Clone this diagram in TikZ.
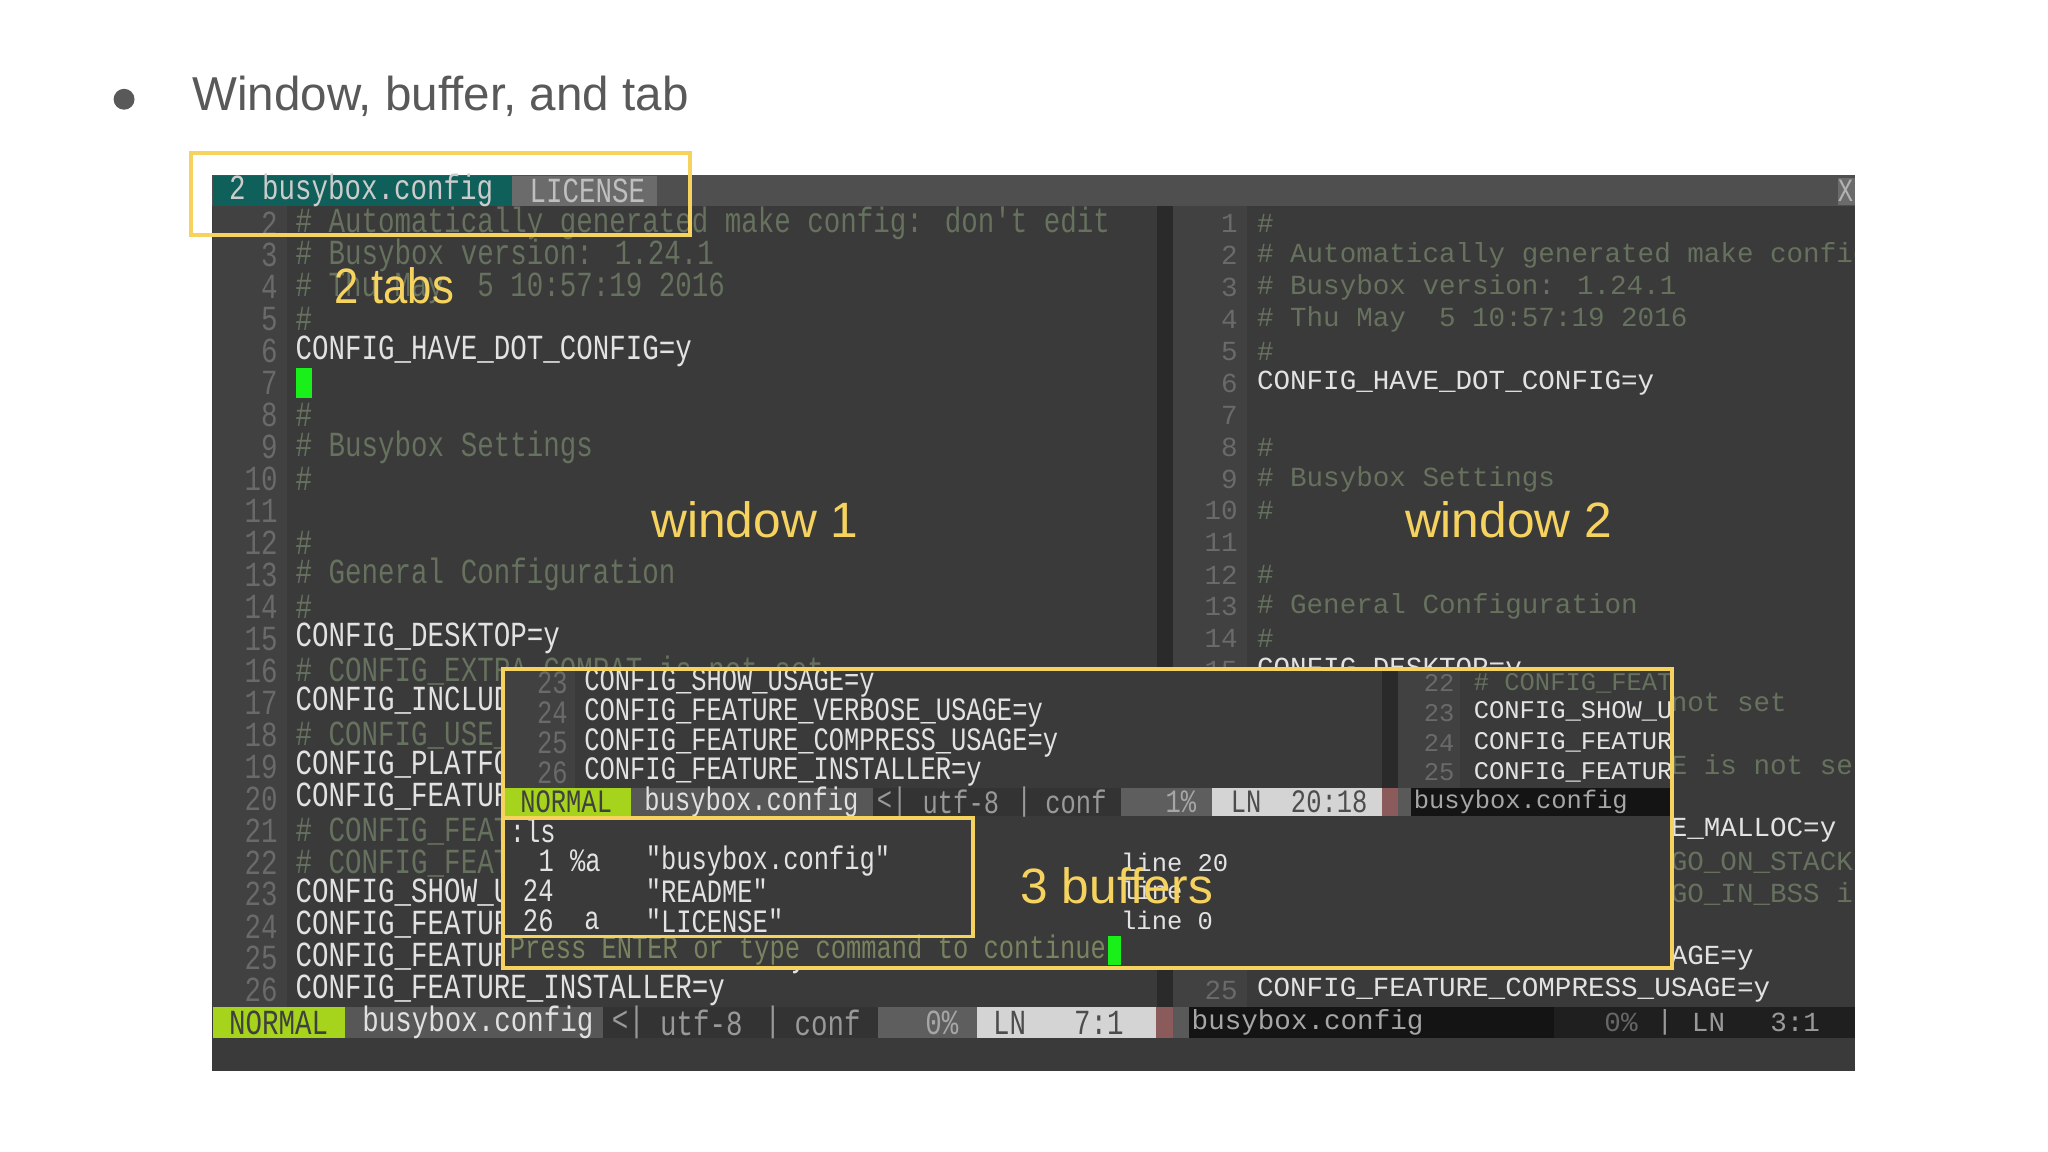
\documentclass[tikz,border=0pt]{standalone}
\usepackage{fontspec}
\usepackage{graphicx}
\setmainfont{Liberation Sans}
\newfontfamily\mono{Liberation Mono}
\newcommand\LL[1]{\scalebox{0.78}[1]{\fontsize{13.5}{14}\mono #1}}
\newcommand\RR[1]{{\fontsize{10.56}{12}\mono #1}}
\newcommand\PL[1]{\scalebox{0.78}[1]{\fontsize{12.5}{13}\mono #1}}
\newcommand\PR[1]{{\fontsize{9.75}{11}\mono #1}}
\definecolor{termbg}{HTML}{3A3A3A}
\definecolor{gut}{HTML}{414141}
\definecolor{divc}{HTML}{2A2A2A}
\definecolor{numc}{HTML}{6A6A6A}
\definecolor{cmc}{HTML}{66715E}
\definecolor{txc}{HTML}{E2E2E2}
\definecolor{yel}{HTML}{F6D35E}
\definecolor{grn}{HTML}{A6D41C}
\definecolor{cur}{HTML}{19F019}
\definecolor{tabc}{HTML}{0F5F5B}
\definecolor{titc}{HTML}{595959}
\definecolor{redc}{HTML}{8B5A5A}
\definecolor{pressc}{HTML}{78845F}
\tikzset{
 lbl/.style={anchor=west,inner sep=0pt},
 numst/.style={anchor=east,inner sep=0pt,text=numc},
 cmt/.style={lbl,text=cmc},
 nmt/.style={lbl,text=txc},
 ybox/.style={draw=yel,line width=1.5pt},
 ylab/.style={inner sep=0pt,text=yel,font=\fontsize{19}{22}\selectfont},
 sb/.style={lbl,text=#1},
}
\begin{document}
\begin{tikzpicture}[x=0.5pt,y=-0.5pt]
\useasboundingbox (0,0) rectangle (1568,882);
\fill[white] (0,0) rectangle (1568,882);
% title
\fill[titc] (95,76) circle (8);
\node[lbl,text=titc,font=\fontsize{18.2}{22}\selectfont] (title) at (147,74) {Window, buffer, and tab};
% terminal
\fill[termbg] (162,134) rectangle (1420,820);
\fill[black!69] (162,134) rectangle (1420,158);
\fill[tabc] (163,135) rectangle (392,158);
\fill[black!58] (392,135) rectangle (503,158);
\node[sb=black!20] (tab1) at (175,146) {\LL{2 busybox.config}};
\node[sb=black!25] (tab2) at (405,146) {\LL{LICENSE}};
\fill[black!58] (1407,136) rectangle (1420,157);
\node[inner sep=0pt,text=black!30] (xbtn) at (1413,146) {\PL{X}};
% gutters and divider
\fill[gut] (163,158) rectangle (220,771);
\fill[divc] (886,158) rectangle (898,771);
\fill[gut] (898,158) rectangle (955,771);
% left window
\foreach \n/\s/\t [count=\i from 0] in {
2/cmt/{\# Automatically generated make config: don't edit},
3/cmt/{\# Busybox version: 1.24.1},
4/cmt/{\# Thu May\ \ 5 10:57:19 2016},
5/cmt/{\#},
6/nmt/{CONFIG\_HAVE\_DOT\_CONFIG=y},
7/nmt/{},
8/cmt/{\#},
9/cmt/{\# Busybox Settings},
10/cmt/{\#},
11/nmt/{},
12/cmt/{\#},
13/cmt/{\# General Configuration},
14/cmt/{\#},
15/nmt/{CONFIG\_DESKTOP=y},
16/cmt/{\# CONFIG\_EXTRA\_COMPAT is not set},
17/nmt/{CONFIG\_INCLUDE\_SUSv2=y},
18/cmt/{\# CONFIG\_USE\_PORTABLE\_CODE is not set},
19/nmt/{CONFIG\_PLATFORM\_LINUX=y},
20/nmt/{CONFIG\_FEATURE\_BUFFERS\_USE\_MALLOC=y},
21/cmt/{\# CONFIG\_FEATURE\_BUFFERS\_GO\_ON\_STACK is not set},
22/cmt/{\# CONFIG\_FEATURE\_BUFFERS\_GO\_IN\_BSS is not set},
23/nmt/{CONFIG\_SHOW\_USAGE=y},
24/nmt/{CONFIG\_FEATURE\_VERBOSE\_USAGE=y},
25/nmt/{CONFIG\_FEATURE\_COMPRESS\_USAGE=y},
26/nmt/{CONFIG\_FEATURE\_INSTALLER=y}}{
  \node[numst] (LN\n) at (213,171+24.46*\i) {\LL{\n}};
  \node[\s] (LT\n) at (226,171+24.46*\i) {\LL{\t}};
}
\fill[cur] (227,282) rectangle (239,305);
% right window
\begin{scope}
\clip (898,158) rectangle (1420,771);
\foreach \n/\s/\t [count=\i from 0] in {
1/cmt/{\#},
2/cmt/{\# Automatically generated make config: don't edit},
3/cmt/{\# Busybox version: 1.24.1},
4/cmt/{\# Thu May\ \ 5 10:57:19 2016},
5/cmt/{\#},
6/nmt/{CONFIG\_HAVE\_DOT\_CONFIG=y},
7/nmt/{},
8/cmt/{\#},
9/cmt/{\# Busybox Settings},
10/cmt/{\#},
11/nmt/{},
12/cmt/{\#},
13/cmt/{\# General Configuration},
14/cmt/{\#},
15/nmt/{CONFIG\_DESKTOP=y},
16/cmt/{\# CONFIG\_EXTRA\_COMPAT is not set},
17/nmt/{CONFIG\_INCLUDE\_SUSv2=y},
18/cmt/{\# CONFIG\_USE\_PORTABLE\_CODE is not set},
19/nmt/{CONFIG\_PLATFORM\_LINUX=y},
20/nmt/{CONFIG\_FEATURE\_BUFFERS\_USE\_MALLOC=y},
21/cmt/{\# CONFIG\_FEATURE\_BUFFERS\_GO\_ON\_STACK is not set},
22/cmt/{\# CONFIG\_FEATURE\_BUFFERS\_GO\_IN\_BSS is not set},
23/nmt/{CONFIG\_SHOW\_USAGE=y},
24/nmt/{CONFIG\_FEATURE\_VERBOSE\_USAGE=y},
25/nmt/{CONFIG\_FEATURE\_COMPRESS\_USAGE=y}}{
  \node[numst] (RN\n) at (948,171+24.46*\i) {\RR{\n}};
  \node[\s] (RT\n) at (962,171+24.46*\i) {\RR{\t}};
}
\end{scope}
% left status line
\fill[grn] (163,771) rectangle (264,795);
\node[sb=black!75] (s1) at (175,783) {\LL{NORMAL}};
\fill[black!66] (264,771) rectangle (462,795);
\node[sb=black!12] (s2) at (277,783) {\LL{busybox.config}};
\fill[black!80] (462,771) rectangle (672,795);
\node[sb=black!40] (s3) at (468,783) {\LL{<|}};
\node[sb=black!40] (s4) at (505,783) {\LL{utf-8}};
\node[sb=black!40] (s5) at (585,783) {\LL{|}};
\node[sb=black!40] (s6) at (608,783) {\LL{conf}};
\fill[black!63] (672,771) rectangle (748,795);
\node[sb=black!35] (s7) at (708,783) {\LL{0\%}};
\fill[black!17] (748,771) rectangle (885,795);
\node[sb=black!70] (s8) at (760,783) {\LL{LN}};
\node[sb=black!70] (s9) at (822,783) {\LL{7:1}};
\fill[redc] (885,771) rectangle (898,795);
\fill[black!65] (898,771) rectangle (910,795);
\fill[black!92] (910,771) rectangle (1190,795);
\node[sb=black!35] (s10) at (912,783) {\RR{busybox.config}};
\fill[black!88] (1190,771) rectangle (1420,795);
\node[sb=black!60] (s11) at (1228,783) {\RR{0\%}};
\node[sb=black!40] (s12) at (1268,783) {\RR{|}};
\node[sb=black!40] (s13) at (1295,783) {\RR{LN}};
\node[sb=black!40] (s14) at (1355,783) {\RR{3:1}};
% popup
\fill[termbg] (385,512) rectangle (1280,741);
\fill[gut] (386,513) rectangle (440,603);
\fill[divc] (1058,513) rectangle (1070,603);
\fill[gut] (1070,513) rectangle (1118,603);
\foreach \n/\t [count=\i from 0] in {23/{CONFIG\_SHOW\_USAGE=y},24/{CONFIG\_FEATURE\_VERBOSE\_USAGE=y},25/{CONFIG\_FEATURE\_COMPRESS\_USAGE=y},26/{CONFIG\_FEATURE\_INSTALLER=y}}{
  \node[numst] (PN\n) at (435,523+22.8*\i) {\PL{\n}};
  \node[nmt] (PT\n) at (447,523+22.8*\i) {\PL{\t}};
}
\begin{scope}
\clip (1070,513) rectangle (1279,603);
\foreach \n/\s/\t [count=\i from 0] in {22/cmt/{\# CONFIG\_FEATURE\_BUFFERS\_GO\_IN\_BSS},23/nmt/{CONFIG\_SHOW\_USAGE=y},24/nmt/{CONFIG\_FEATURE\_VERBOSE},25/nmt/{CONFIG\_FEATURE\_COMPRESS}}{
  \node[numst] (QN\n) at (1114,523+22.8*\i) {\PR{\n}};
  \node[\s] (QT\n) at (1128,523+22.8*\i) {\PR{\t}};
}
\end{scope}
\fill[grn] (387,603) rectangle (483,625);
\node[sb=black!75] (p1) at (398,614) {\PL{NORMAL}};
\fill[black!66] (483,603) rectangle (668,625);
\node[sb=black!12] (p2) at (493,614) {\PL{busybox.config}};
\fill[black!80] (668,603) rectangle (858,625);
\node[sb=black!40] (p3) at (671,614) {\PL{<|}};
\node[sb=black!40] (p4) at (706,614) {\PL{utf-8}};
\node[sb=black!40] (p5) at (778,614) {\PL{|}};
\node[sb=black!40] (p6) at (800,614) {\PL{conf}};
\fill[black!63] (858,603) rectangle (928,625);
\node[sb=black!35] (p7) at (892,614) {\PL{1\%}};
\fill[black!17] (928,603) rectangle (1058,625);
\node[sb=black!70] (p8) at (942,614) {\PL{LN}};
\node[sb=black!70] (p9) at (988,614) {\PL{20:18}};
\fill[redc] (1058,603) rectangle (1070,625);
\fill[black!65] (1070,603) rectangle (1080,625);
\fill[black!92] (1080,603) rectangle (1279,625);
\node[sb=black!35] (p10) at (1082,614) {\PR{busybox.config}};
\node[nmt] (ls) at (390,636) {\PL{:ls}};
\node[nmt] (b1n) at (412,659) {\PL{1}};
\node[nmt] (b1f) at (436,659) {\PL{\%a}};
\node[nmt] (b1s) at (494,659) {\PL{"busybox.config"}};
\node[nmt] (b2n) at (400,682) {\PL{24}};
\node[nmt] (b2s) at (494,682) {\PL{"README"}};
\node[nmt] (b3n) at (400,705) {\PL{26}};
\node[nmt] (b3f) at (447,705) {\PL{a}};
\node[nmt] (b3s) at (494,705) {\PL{"LICENSE"}};
\node[sb=pressc] (press) at (390,727) {\PL{Press ENTER or type command to continue}};
\fill[cur] (848,717) rectangle (858,739);
\node[nmt] (l1) at (858,660) {\PR{line 20}};
\node[nmt] (l2) at (858,682) {\PR{line}};
\node[nmt] (l3) at (858,705) {\PR{line 0}};
% yellow boxes
\draw[ybox] (146,117) rectangle (528,180);
\draw[ybox] (385,512) rectangle (1280,741);
\draw[ybox] (385,626) rectangle (745,717);
% labels
\node[ylab] (tabs) at (302,219) {\scalebox{0.88}[1]{2 tabs}};
\node[ylab] (w1) at (578,398) {window 1};
\node[ylab] (w2) at (1155,398) {window 2};
\node[ylab] (bufs) at (855,678) {3 buffers};
\end{tikzpicture}
\end{document}
